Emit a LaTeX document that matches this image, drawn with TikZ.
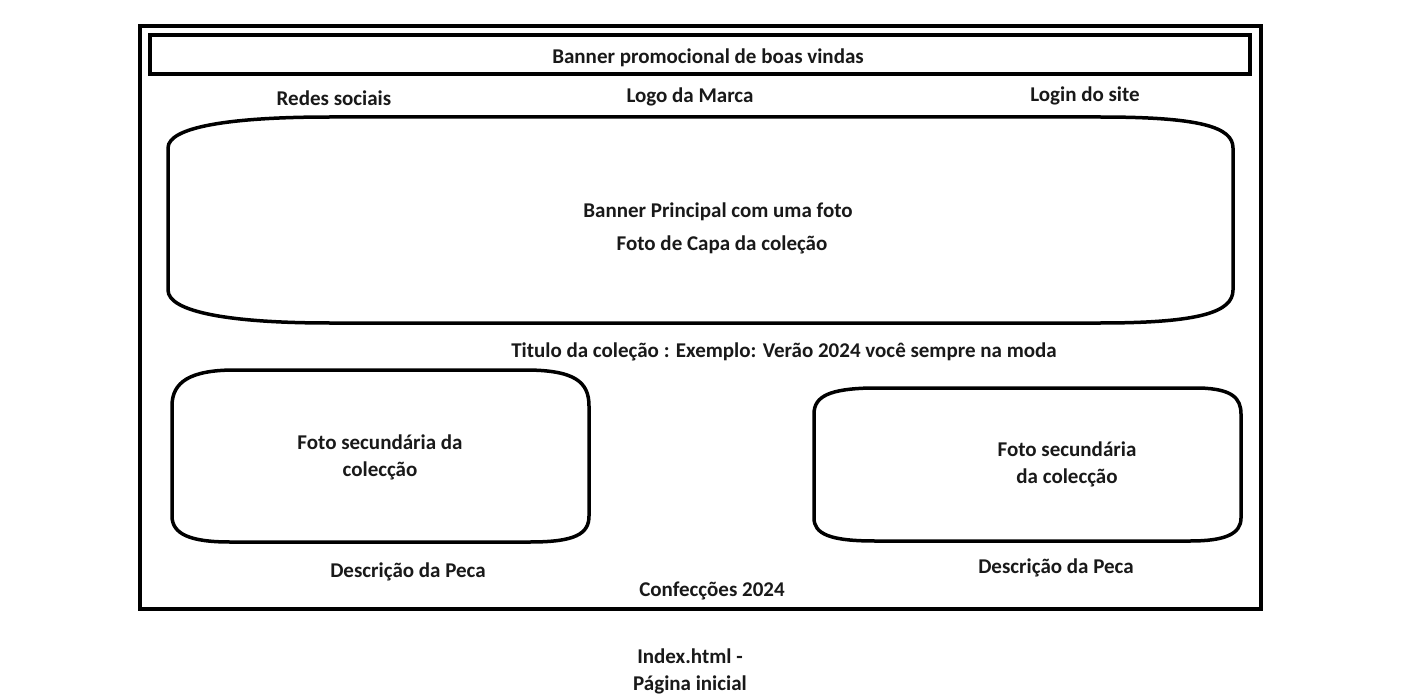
\documentclass[tikz,border=0pt]{standalone}
\usepackage{fontspec}
\setmainfont{Carlito}
\begin{document}
\begin{tikzpicture}[x=1pt,y=-1pt,
  lbl/.style={font=\bfseries\fontsize{21}{27}\selectfont, text=black!90, align=center, inner sep=0pt},
  frame/.style={draw=black, line width=4pt},
  blob/.style={draw=black, line width=3.5pt}]
\useasboundingbox[fill=white] (0,0) rectangle (1409,698);
% outer frame and top banner
\draw[frame] (140,26) rectangle (1261,609);
\draw[frame] (150,35) rectangle (1250,74);
% main banner shape
\draw[blob] (168,148) .. controls (168,127) and (230,117) .. (330,117) -- (1100,117)
  .. controls (1200,117) and (1233,127) .. (1233,148) -- (1233,290)
  .. controls (1233,312) and (1200,323) .. (1100,323) -- (330,323)
  .. controls (230,323) and (168,312) .. (168,290) -- cycle;
% left secondary photo
\draw[blob] (172,406) .. controls (172,382) and (190,370) .. (235,370) -- (525,370)
  .. controls (575,370) and (589,382) .. (589,406) -- (589,516)
  .. controls (589,534) and (575,542) .. (530,542) -- (230,542)
  .. controls (190,542) and (172,534) .. (172,516) -- cycle;
% right secondary photo
\draw[blob] (814,414) .. controls (814,396) and (830,389) .. (870,388) -- (1200,388)
  .. controls (1232,389) and (1241,398) .. (1241,414) -- (1241,518)
  .. controls (1241,534) and (1225,541) .. (1190,541) -- (875,541)
  .. controls (830,541) and (814,534) .. (814,518) -- cycle;
% texts
\node[lbl] (t1) at (708,58) {Banner promocional de boas vindas};
\node[lbl] (t2) at (334,98) {Redes sociais};
\node[lbl] (t3) at (690,97) {Logo da Marca};
\node[lbl] (t4) at (1085,96) {Login do site};
\node[lbl] (t5) at (718,212) {Banner Principal com uma foto};
\node[lbl] (t6) at (722,245) {Foto de Capa da coleção};
\node[lbl] (t7) at (784,352) {Titulo da coleção : Exemplo: Verão 2024 você sempre na moda};
\node[lbl] (t8) at (380,457) {Foto secundária da\\colecção};
\node[lbl] (t9) at (1067,464) {Foto secundária\\da colecção};
\node[lbl] (t10) at (408,572) {Descrição da Peca};
\node[lbl] (t11) at (1056,568) {Descrição da Peca};
\node[lbl] (t12) at (712,591) {Confecções 2024};
\node[lbl] (t13) at (690,671) {Index.html -\\Página inicial};
\end{tikzpicture}
\end{document}
